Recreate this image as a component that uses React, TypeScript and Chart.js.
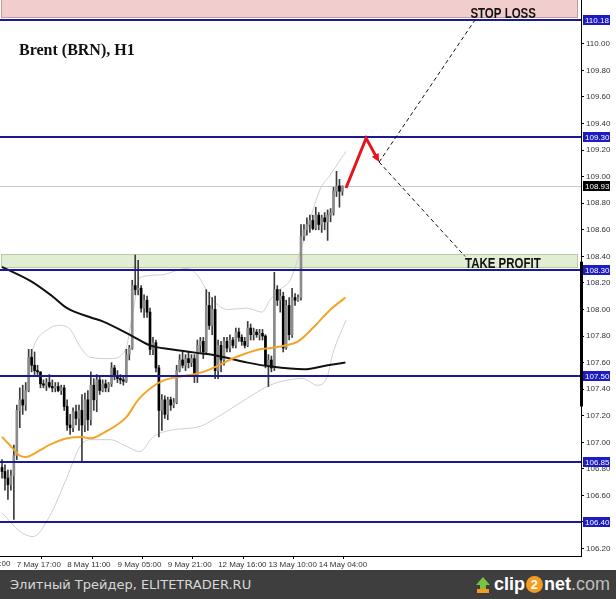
import React, { useEffect, useRef } from "react";
import { Chart, registerables } from "chart.js";

Chart.register(...registerables);

// ---------- data ----------
const opens = [
  106.81, 106.78, 106.73, 106.68, 106.75, 106.9, 107.24, 107.32, 107.28, 107.39,
  107.64, 107.58, 107.54, 107.53, 107.44, 107.43, 107.45, 107.42, 107.41, 107.42,
  107.39, 107.41, 107.27, 107.13, 107.11, 107.23, 107.18, 107.24, 107.13, 107.32,
  107.17, 107.43, 107.32, 107.47, 107.39, 107.44, 107.41, 107.44, 107.56, 107.5,
  107.48, 107.47, 107.46, 107.66, 107.71, 108.18, 108.15, 108.16, 108.01, 108.07,
  107.98, 107.7, 107.75, 107.56, 107.24, 107.32, 107.21, 107.32, 107.28, 107.3,
  107.54, 107.62, 107.58, 107.63, 107.6, 107.63, 107.51, 107.73, 107.76, 107.68,
  108.03, 107.88, 108.0, 107.54, 107.73, 107.62, 107.76, 107.71, 107.77, 107.73,
  107.83, 107.79, 107.76, 107.73, 107.86, 107.81, 107.83, 107.81, 107.82, 107.8,
  107.58, 107.62, 107.56, 108.15, 108.07, 108.1, 107.71, 108.03, 107.81, 108.09,
  108.07, 108.09, 108.55, 108.6, 108.64, 108.67, 108.61, 108.71, 108.64, 108.69,
  108.66, 108.71, 108.73, 108.89, 108.93, 108.89,
];
const highs = [
  106.87, 106.83, 106.79, 106.79, 106.98, 107.28, 107.41, 107.43, 107.45, 107.7,
  107.7, 107.68, 107.58, 107.53, 107.47, 107.48, 107.51, 107.47, 107.45, 107.45,
  107.43, 107.43, 107.32, 107.21, 107.26, 107.28, 107.28, 107.36, 107.37, 107.39,
  107.53, 107.48, 107.51, 107.49, 107.47, 107.47, 107.45, 107.6, 107.58, 107.54,
  107.51, 107.5, 107.7, 107.73, 108.22, 108.41, 108.37, 108.18, 108.11, 108.1,
  108.01, 107.79, 107.77, 107.58, 107.36, 107.35, 107.34, 107.34, 107.33, 107.58,
  107.66, 107.68, 107.66, 107.68, 107.66, 107.66, 107.77, 107.79, 107.79, 108.15,
  108.13, 108.09, 108.1, 107.77, 107.76, 107.79, 107.79, 107.81, 107.79, 107.86,
  107.86, 107.81, 107.79, 107.91, 107.89, 107.86, 107.85, 107.85, 107.85, 107.81,
  107.66, 107.65, 108.28, 108.18, 108.15, 108.13, 108.07, 108.09, 108.16, 108.12,
  108.11, 108.64, 108.64, 108.69, 108.71, 108.71, 108.77, 108.73, 108.71, 108.73,
  108.75, 108.76, 108.92, 109.04, 108.98, 108.93,
];
const lows = [
  106.73, 106.64, 106.57, 106.64, 106.42, 106.87, 107.11, 107.21, 107.24, 107.38,
  107.53, 107.51, 107.51, 107.41, 107.41, 107.39, 107.41, 107.38, 107.38, 107.38,
  107.36, 107.24, 107.09, 107.06, 107.08, 107.13, 107.09, 106.85, 107.08, 107.09,
  107.13, 107.24, 107.23, 107.36, 107.38, 107.38, 107.38, 107.42, 107.47, 107.45,
  107.44, 107.43, 107.45, 107.62, 107.7, 108.11, 108.11, 107.98, 107.94, 107.94,
  107.66, 107.66, 107.53, 107.04, 107.09, 107.18, 107.17, 107.24, 107.26, 107.29,
  107.53, 107.56, 107.54, 107.56, 107.57, 107.45, 107.45, 107.68, 107.63, 107.66,
  107.85, 107.81, 107.48, 107.48, 107.53, 107.58, 107.68, 107.68, 107.71, 107.71,
  107.76, 107.73, 107.71, 107.72, 107.77, 107.77, 107.79, 107.77, 107.77, 107.56,
  107.42, 107.53, 107.54, 108.03, 107.98, 107.68, 107.7, 107.77, 107.79, 108.03,
  108.06, 108.07, 108.52, 108.56, 108.58, 108.6, 108.6, 108.6, 108.58, 108.6,
  108.52, 108.66, 108.71, 108.85, 108.77, 108.86,
];
const closes = [
  106.78, 106.73, 106.68, 106.75, 106.9, 107.24, 107.32, 107.28, 107.39, 107.64,
  107.58, 107.54, 107.53, 107.44, 107.43, 107.45, 107.42, 107.41, 107.42, 107.39,
  107.41, 107.27, 107.13, 107.11, 107.23, 107.18, 107.24, 107.13, 107.32, 107.17,
  107.43, 107.32, 107.47, 107.39, 107.44, 107.41, 107.44, 107.56, 107.5, 107.48,
  107.47, 107.46, 107.66, 107.71, 108.18, 108.15, 108.16, 108.01, 108.07, 107.98,
  107.7, 107.75, 107.56, 107.24, 107.32, 107.21, 107.32, 107.28, 107.3, 107.54,
  107.62, 107.58, 107.63, 107.6, 107.63, 107.51, 107.73, 107.76, 107.68, 108.03,
  107.88, 108.0, 107.54, 107.73, 107.62, 107.76, 107.71, 107.77, 107.73, 107.83,
  107.79, 107.76, 107.73, 107.86, 107.81, 107.83, 107.81, 107.82, 107.8, 107.58,
  107.62, 107.56, 108.15, 108.07, 108.1, 107.71, 108.03, 107.81, 108.09, 108.07,
  108.09, 108.55, 108.6, 108.64, 108.67, 108.61, 108.71, 108.64, 108.69, 108.66,
  108.71, 108.73, 108.89, 108.93, 108.89, 108.93,
];

const xTickBars = [5, 22, 39, 56, 73, 90, 107];
const xTickLabels = [
  "7 May 17:00", "8 May 11:00", "9 May 05:00", "9 May 21:00",
  "12 May 16:00", "13 May 10:00", "14 May 04:00",
];
const prevTickBar = -12;
const prevTickLabel = "7 May 00:00";
const yTickValues = [
  106.2, 106.4, 106.6, 106.8, 107.0, 107.2, 107.4, 107.6, 107.8, 108.0,
  108.2, 108.4, 108.6, 108.8, 109.0, 109.2, 109.4, 109.6, 109.8, 110.0,
];

const maSlowBars = [0, 10, 17, 22, 30, 34, 44, 50, 57, 67, 71, 83, 91, 102, 110, 116];
const maSlowValues = [108.32, 108.21, 108.1, 108.01, 107.94, 107.91, 107.8, 107.73, 107.7, 107.67, 107.66, 107.6, 107.57, 107.55, 107.58, 107.6];

const maFastBars = [0, 3, 6, 8, 12, 16, 22, 27, 30, 35, 42, 46, 51, 55, 59, 68, 79, 87, 91, 96, 100, 105, 111, 116];
const maFastValues = [107.04, 106.97, 106.9, 106.89, 106.93, 106.98, 107.03, 107.04, 107.03, 107.08, 107.19, 107.32, 107.42, 107.47, 107.49, 107.53, 107.64, 107.7, 107.71, 107.73, 107.76, 107.86, 108.0, 108.09];

const bbUpperBars = [8.8, 10.5, 16.2, 19.6, 23, 26.4, 29.7, 36.5, 41.6, 44.3, 46.6, 53.4, 62.5, 65.9, 71.3, 76.4, 82.8, 87.8, 90.5, 93.9, 97.3, 101.7, 107.4, 110.8, 116.2];
const bbUpperValues = [107.55, 107.71, 107.86, 107.88, 107.85, 107.72, 107.64, 107.63, 107.69, 107.99, 108.24, 108.26, 108.31, 108.26, 108.07, 108.0, 108.01, 107.98, 108.07, 108.15, 108.22, 108.5, 108.9, 109.01, 109.19];
const bbLowerBars = [0, 6, 10.5, 16, 22, 26.4, 30, 36.5, 42, 46.6, 51, 56.8, 67, 71.3, 82.8, 90.5, 101.7, 106.4, 109.8, 111.8, 116.2];
const bbLowerValues = [106.47, 106.33, 106.29, 106.44, 106.74, 106.97, 107.02, 107.02, 106.97, 106.93, 107.04, 107.09, 107.12, 107.17, 107.33, 107.43, 107.48, 107.43, 107.49, 107.67, 107.92];

const levelLines = [110.18, 109.3, 108.3, 107.5, 106.85, 106.4];
const lastPrice = 108.93;
const stopZone = [110.195, 110.4];
const profitZone = [108.31, 108.42];
const axisBarRange = [107.27, 108.36];

const arrowBars = [116.2, 123, 127.4];
const arrowPrices = [108.915, 109.29, 109.11];
const dashBars = [159.8, 156.4];
const dashPrices = [110.18, 108.4];

const noteTexts = ["STOP LOSS", "TAKE PROFIT"];
const noteBars = [169.3, 169.2];
const notePrices = [110.195, 108.31];

const titleText = "Brent (BRN), H1";

const X_MIN = -0.68;
const X_MAX = 195.6;
const Y_MIN = 106.144;
const Y_MAX = 110.33;

const NAVY = "#1a1a96";

const overlayPlugin = {
  id: "overlay",
  beforeDatasetsDraw(chart: any) {
    const { ctx, chartArea: a, scales } = chart;
    const y = scales.y;
    ctx.save();
    ctx.beginPath();
    ctx.rect(a.left, a.top, a.right - a.left, a.bottom - a.top);
    ctx.clip();
    const zone = (lo: number, hi: number, fill: string, stroke: string) => {
      const t = Math.round(y.getPixelForValue(hi));
      const b = Math.round(y.getPixelForValue(lo));
      ctx.fillStyle = fill;
      ctx.fillRect(a.left + 1, t, a.right - a.left - 4, b - t);
      ctx.strokeStyle = stroke;
      ctx.lineWidth = 1;
      ctx.strokeRect(a.left + 1.5, t + 0.5, a.right - a.left - 5, b - t - 1);
    };
    zone(stopZone[0], stopZone[1], "#f2cdcd", "#c79a9a");
    zone(profitZone[0], profitZone[1], "#e2eed3", "#b9c9a3");
    const lp = Math.round(y.getPixelForValue(lastPrice)) + 0.5;
    ctx.strokeStyle = "#c8c8c8";
    ctx.beginPath();
    ctx.moveTo(a.left, lp);
    ctx.lineTo(a.right, lp);
    ctx.stroke();
    ctx.restore();
  },
  afterDatasetsDraw(chart: any) {
    const { ctx, chartArea: a, scales } = chart;
    const x = scales.x;
    const y = scales.y;
    ctx.save();
    ctx.strokeStyle = NAVY;
    ctx.lineWidth = 2;
    levelLines.forEach((v) => {
      const py = Math.round(y.getPixelForValue(v));
      ctx.beginPath();
      ctx.moveTo(a.left, py);
      ctx.lineTo(a.right, py);
      ctx.stroke();
    });
    const ex = x.getPixelForValue(arrowBars[2]);
    const ey = y.getPixelForValue(arrowPrices[2]);
    ctx.strokeStyle = "#111";
    ctx.lineWidth = 1;
    ctx.setLineDash([4, 3]);
    dashBars.forEach((b, i) => {
      ctx.beginPath();
      ctx.moveTo(ex, ey);
      ctx.lineTo(x.getPixelForValue(b), y.getPixelForValue(dashPrices[i]));
      ctx.stroke();
    });
    ctx.setLineDash([]);
    const pts = arrowBars.map((b, i) => [x.getPixelForValue(b), y.getPixelForValue(arrowPrices[i])]);
    ctx.strokeStyle = "#e8141b";
    ctx.fillStyle = "#e8141b";
    ctx.lineWidth = 3;
    ctx.lineJoin = "miter";
    const [p0, p1, p2] = pts;
    const ang = Math.atan2(p2[1] - p1[1], p2[0] - p1[0]);
    const headLen = 9;
    const stopX = p2[0] - Math.cos(ang) * (headLen - 2);
    const stopY = p2[1] - Math.sin(ang) * (headLen - 2);
    ctx.beginPath();
    ctx.moveTo(p0[0], p0[1]);
    ctx.lineTo(p1[0], p1[1]);
    ctx.lineTo(stopX, stopY);
    ctx.stroke();
    ctx.beginPath();
    ctx.moveTo(p2[0], p2[1]);
    ctx.lineTo(p2[0] - headLen * Math.cos(ang - 0.45), p2[1] - headLen * Math.sin(ang - 0.45));
    ctx.lineTo(p2[0] - headLen * Math.cos(ang + 0.45), p2[1] - headLen * Math.sin(ang + 0.45));
    ctx.closePath();
    ctx.fill();
    // notes (condensed bold sans)
    ctx.fillStyle = "#111";
    ctx.textAlign = "center";
    ctx.textBaseline = "alphabetic";
    ctx.font = 'bold 14px "Liberation Sans", Arial, sans-serif';
    noteTexts.forEach((t, i) => {
      ctx.save();
      ctx.translate(x.getPixelForValue(noteBars[i]), y.getPixelForValue(notePrices[i]));
      ctx.scale(0.82, 1);
      ctx.fillText(t, 0, 0);
      ctx.restore();
    });
    ctx.textAlign = "left";
    ctx.font = 'bold 16px "Liberation Serif", "Times New Roman", serif';
    ctx.fillText(titleText, a.left + 19, a.top + 55);
    ctx.restore();
  },
  afterDraw(chart: any) {
    const { ctx, chartArea: a, scales } = chart;
    const x = scales.x;
    const y = scales.y;
    ctx.save();
    const t = y.getPixelForValue(axisBarRange[1]);
    const b = y.getPixelForValue(axisBarRange[0]);
    ctx.fillStyle = "#000";
    ctx.fillRect(a.right - 1, t, 3, b - t);
    ctx.font = '8px "Liberation Sans", Arial, sans-serif';
    ctx.textBaseline = "middle";
    ctx.textAlign = "left";
    const box = (v: number, bg: string) => {
      const py = Math.round(y.getPixelForValue(v));
      ctx.fillStyle = bg;
      ctx.fillRect(a.right + 2, py - 5, 27, 10);
      ctx.fillStyle = "#fff";
      ctx.fillText(v.toFixed(2), a.right + 4, py + 0.5);
    };
    levelLines.forEach((v) => box(v, "#1c1cc0"));
    box(lastPrice, "#000");
    ctx.fillStyle = "#333";
    ctx.textBaseline = "top";
    ctx.fillText(prevTickLabel, x.getPixelForValue(prevTickBar), a.bottom + 4);
    ctx.restore();
  },
};

export default function App() {
  const canvasRef = useRef<HTMLCanvasElement | null>(null);

  useEffect(() => {
    document.body.style.margin = "0";
    const canvas = canvasRef.current;
    if (!canvas) return;

    const wickData = highs.map((h, i) => ({ x: i, y: [lows[i], h] }));
    const bodyData = opens.map((o, i) => ({ x: i, y: [Math.min(o, closes[i]), Math.max(o, closes[i])] }));
    const bodyColors = opens.map((o, i) => (closes[i] >= o ? "#8c8c8c" : "#000000"));
    const toPts = (xs: number[], vs: number[]) => xs.map((v, i) => ({ x: v, y: vs[i] }));

    const lineDs = (label: string, data: any[], color: string, width: number, order: number) => ({
      type: "line" as const,
      label,
      data,
      borderColor: color,
      borderWidth: width,
      pointRadius: 0,
      fill: false,
      cubicInterpolationMode: "monotone" as const,
      order,
    });

    const chart = new Chart(canvas, {
      type: "bar",
      data: {
        datasets: [
          lineDs("BB upper", toPts(bbUpperBars, bbUpperValues), "#cfcfcf", 1, 6),
          lineDs("BB lower", toPts(bbLowerBars, bbLowerValues), "#cfcfcf", 1, 6),
          {
            type: "bar",
            label: "wick",
            data: wickData as any,
            backgroundColor: "#3c3c3c",
            barThickness: 1,
            grouped: false,
            minBarLength: 1,
            order: 5,
          } as any,
          {
            type: "bar",
            label: "body",
            data: bodyData as any,
            backgroundColor: bodyColors,
            barThickness: 2,
            grouped: false,
            minBarLength: 1,
            order: 4,
          } as any,
          lineDs("MA slow", toPts(maSlowBars, maSlowValues), "#111111", 2, 2),
          lineDs("MA fast", toPts(maFastBars, maFastValues), "#f2a526", 2, 1),
        ],
      },
      options: {
        animation: false,
        responsive: false,
        maintainAspectRatio: false,
        layout: { padding: 0 },
        plugins: {
          legend: { display: false },
          tooltip: { enabled: false },
          title: { display: false },
        },
        scales: {
          x: {
            type: "linear",
            min: X_MIN,
            max: X_MAX,
            offset: false,
            grid: { display: true, drawOnChartArea: false, drawTicks: true, tickLength: 3, color: "#000" },
            border: { display: true, color: "#000" },
            afterBuildTicks: (s: any) => {
              s.ticks = xTickBars.map((v) => ({ value: v }));
            },
            afterFit: (s: any) => {
              s.height = 14;
              s.paddingLeft = 0;
              s.paddingRight = 0;
            },
            ticks: {
              autoSkip: false,
              maxRotation: 0,
              minRotation: 0,
              align: "start",
              padding: 1,
              color: "#333",
              font: { size: 8, family: '"Liberation Sans", Arial, sans-serif' },
              callback: (_v: any, idx: number) => xTickLabels[idx],
            },
          },
          y: {
            type: "linear",
            position: "right",
            min: Y_MIN,
            max: Y_MAX,
            grid: { display: true, drawOnChartArea: false, drawTicks: true, tickLength: 3, color: "#000" },
            border: { display: true, color: "#000" },
            afterBuildTicks: (s: any) => {
              s.ticks = yTickValues.map((v) => ({ value: v }));
            },
            afterFit: (s: any) => {
              s.width = 35;
              s.paddingTop = 0;
              s.paddingBottom = 0;
            },
            ticks: {
              padding: 2,
              color: "#333",
              font: { size: 8, family: '"Liberation Sans", Arial, sans-serif' },
              callback: (v: any) => Number(v).toFixed(2),
            },
          },
        },
      },
      plugins: [overlayPlugin],
    } as any);

    return () => chart.destroy();
  }, []);

  return (
    <div style={{ position: "fixed", left: 0, top: 0, width: 616, height: 599, background: "#fff", overflow: "hidden" }}>
      <canvas ref={canvasRef} width={616} height={570} style={{ display: "block", width: 616, height: 570 }} />
      <div
        style={{
          position: "absolute",
          left: 0,
          top: 570,
          width: 616,
          height: 29,
          background: "#3e3e3e",
          display: "flex",
          alignItems: "center",
          justifyContent: "space-between",
          boxSizing: "border-box",
          padding: "0 6px 0 10px",
        }}
      >
        <span style={{ fontFamily: '"DejaVu Sans", Verdana, sans-serif', fontSize: 13, color: "#d8d8d8" }}>
          Элитный Трейдер, ELITETRADER.RU
        </span>
        <span style={{ display: "flex", alignItems: "center", fontFamily: '"Liberation Sans", Arial, sans-serif', fontSize: 18, fontWeight: "bold" }}>
          <svg width="16" height="18" viewBox="0 0 16 18" style={{ marginRight: 3 }}>
            <polygon points="8,1 15,9 11,9 11,13 5,13 5,9 1,9" fill="#7cc242" />
            <rect x="2" y="13" width="12" height="4" fill="#f39c1f" />
          </svg>
          <span style={{ color: "#ffffff" }}>clip</span>
          <span
            style={{
              display: "inline-block",
              width: 17,
              height: 17,
              borderRadius: 9,
              background: "#f39c1f",
              color: "#fff",
              fontSize: 13,
              lineHeight: "17px",
              textAlign: "center",
              margin: "0 1px",
            }}
          >
            2
          </span>
          <span style={{ color: "#ffffff" }}>net</span>
          <span style={{ color: "#bdbdbd", fontWeight: "normal" }}>.com</span>
        </span>
      </div>
    </div>
  );
}
